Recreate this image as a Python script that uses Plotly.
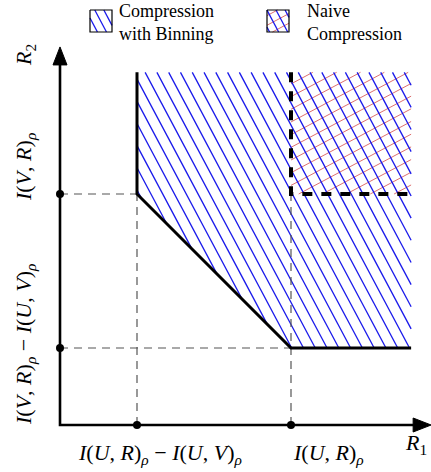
import numpy as np
import plotly.graph_objects as go

# ---------------- data (abstract rate units) ----------------
x_tick_vals = [1.0, 3.0]          # I(U,R)-I(U,V), I(U,R)
x_tick_labels = [
    "<i>I</i>(<i>U</i>, <i>R</i>)<sub><i>ρ</i></sub> − <i>I</i>(<i>U</i>, <i>V</i>)<sub><i>ρ</i></sub>",
    "<i>I</i>(<i>U</i>, <i>R</i>)<sub><i>ρ</i></sub>",
]
y_tick_vals = [1.0, 3.0]          # I(V,R)-I(U,V), I(V,R)
y_tick_labels = [
    "<i>I</i>(<i>V</i>, <i>R</i>)<sub><i>ρ</i></sub> − <i>I</i>(<i>U</i>, <i>V</i>)<sub><i>ρ</i></sub>",
    "<i>I</i>(<i>V</i>, <i>R</i>)<sub><i>ρ</i></sub>",
]
x_axis_label = "<i>R</i><sub>1</sub>"
y_axis_label = "<i>R</i><sub>2</sub>"
region_x_max = 4.56
region_y_max = 4.58
axis_x_tip = 4.82
axis_y_tip = 4.91

# boundary of "compression with binning" region
binning_x = [x_tick_vals[0], x_tick_vals[0], x_tick_vals[1], region_x_max]
binning_y = [region_y_max, y_tick_vals[1], y_tick_vals[0], y_tick_vals[0]]
# boundary of "naive compression" region
naive_x = [x_tick_vals[1], x_tick_vals[1], region_x_max]
naive_y = [region_y_max, y_tick_vals[1], y_tick_vals[1]]

legend_names = ["Compression<br>with Binning", "Naive<br>Compression"]

# ---------------- layout geometry ----------------
W, H = 431, 472
PX = 77.0            # pixels per unit (both axes)
OX, OY = 60.0, 425.0  # pixel position of origin
xr = [-OX / PX, (W - OX) / PX]
yr = [-(H - OY) / PX, OY / PX]

def px2d(px, py):
    return (px - OX) / PX, (OY - py) / PX

BLUE = "rgb(25,25,235)"
RED = "rgb(215,95,95)"
SERIF = "Liberation Serif, Times New Roman, serif"


def hatch(poly, angle_deg, spacing, phase=0.0):
    a = np.radians(angle_deg)
    d = np.array([np.cos(a), np.sin(a)])
    n = np.array([-np.sin(a), np.cos(a)])
    pts = np.array(poly, dtype=float)
    proj = pts @ n
    k0 = int(np.ceil((proj.min() - phase) / spacing))
    k1 = int(np.floor((proj.max() - phase) / spacing))
    xs, ys = [], []
    m = len(pts)
    for k in range(k0, k1 + 1):
        c = phase + k * spacing
        ts = []
        for i in range(m):
            p, q = pts[i], pts[(i + 1) % m]
            fp, fq = p @ n - c, q @ n - c
            if fp == fq:
                continue
            if (fp <= 0 <= fq) or (fq <= 0 <= fp):
                s = fp / (fp - fq)
                r = p + s * (q - p)
                ts.append(r @ d)
        if len(ts) >= 2:
            t0, t1 = min(ts), max(ts)
            if t1 - t0 < 1e-6:
                continue
            p0 = c * n + t0 * d
            p1 = c * n + t1 * d
            xs += [p0[0], p1[0], None]
            ys += [p0[1], p1[1], None]
    return xs, ys


fig = go.Figure()

# hatched regions
bin_poly = list(zip(binning_x, binning_y)) + [(region_x_max, region_y_max)]
naive_poly = list(zip(naive_x, naive_y)) + [(region_x_max, region_y_max)]

BL_ANG, BL_SP = -62.0, 10.4 / PX
RD_ANG, RD_SP = 28.0, 11.2 / PX

hx, hy = hatch(naive_poly, RD_ANG, RD_SP, 0.03)
fig.add_trace(go.Scatter(x=hx, y=hy, mode="lines", line=dict(color=RED, width=0.9),
                         hoverinfo="skip", showlegend=False))
hx, hy = hatch(bin_poly, BL_ANG, BL_SP, 0.02)
fig.add_trace(go.Scatter(x=hx, y=hy, mode="lines", line=dict(color=BLUE, width=1.3),
                         hoverinfo="skip", showlegend=False))

# thin gray dashed guide lines
GRAY = dict(color="rgb(85,85,85)", width=1.2, dash="8px,6px")
guides = [
    ([0, x_tick_vals[0]], [y_tick_vals[1], y_tick_vals[1]]),
    ([0, x_tick_vals[1]], [y_tick_vals[0], y_tick_vals[0]]),
    ([x_tick_vals[0], x_tick_vals[0]], [0, y_tick_vals[1]]),
    ([x_tick_vals[1], x_tick_vals[1]], [0, y_tick_vals[1]]),
]
for gx, gy in guides:
    fig.add_trace(go.Scatter(x=gx, y=gy, mode="lines", line=GRAY,
                             hoverinfo="skip", showlegend=False))

# region boundaries
fig.add_trace(go.Scatter(x=binning_x, y=binning_y, mode="lines",
                         line=dict(color="black", width=3), hoverinfo="skip", showlegend=False))
fig.add_trace(go.Scatter(x=naive_x, y=naive_y, mode="lines",
                         line=dict(color="black", width=4, dash="10px,9px"),
                         hoverinfo="skip", showlegend=False))

# axes
fig.add_trace(go.Scatter(x=[axis_x_tip - 0.1, 0, 0], y=[0, 0, axis_y_tip - 0.1], mode="lines",
                         line=dict(color="black", width=2.6), hoverinfo="skip", showlegend=False))
AL, AW = 18 / PX, 7 / PX
fig.add_trace(go.Scatter(x=[0, -AW, AW, 0], y=[axis_y_tip, axis_y_tip - AL, axis_y_tip - AL, axis_y_tip],
                         fill="toself", fillcolor="black", mode="lines", line=dict(color="black", width=1),
                         hoverinfo="skip", showlegend=False))
fig.add_trace(go.Scatter(x=[axis_x_tip, axis_x_tip - AL, axis_x_tip - AL, axis_x_tip], y=[0, AW, -AW, 0],
                         fill="toself", fillcolor="black", mode="lines", line=dict(color="black", width=1),
                         hoverinfo="skip", showlegend=False))

# tick dots
fig.add_trace(go.Scatter(x=x_tick_vals + [0, 0], y=[0, 0] + y_tick_vals, mode="markers",
                         marker=dict(color="black", size=8), hoverinfo="skip", showlegend=False))

annotations = []
FS = 22
# x tick labels
x_lab_px = [160, 328]
for lab, xp in zip(x_tick_labels, x_lab_px):
    xd, yd = px2d(xp, 454)
    annotations.append(dict(x=xd, y=yd, text=lab, showarrow=False, xanchor="center", yanchor="middle",
                            font=dict(family=SERIF, size=FS, color="black")))
# y tick labels (rotated)
y_lab_py = [345, 167]
for lab, yp in zip(y_tick_labels, y_lab_py):
    xd, yd = px2d(25, yp)
    annotations.append(dict(x=xd, y=yd, text=lab, showarrow=False, textangle=-90,
                            xanchor="center", yanchor="middle",
                            font=dict(family=SERIF, size=FS, color="black")))
xd, yd = px2d(416, 444)
annotations.append(dict(x=xd, y=yd, text=x_axis_label, showarrow=False, xanchor="center", yanchor="middle",
                        font=dict(family=SERIF, size=FS, color="black")))
xd, yd = px2d(25, 55)
annotations.append(dict(x=xd, y=yd, text=y_axis_label, showarrow=False, textangle=-90,
                        xanchor="center", yanchor="middle",
                        font=dict(family=SERIF, size=FS, color="black")))

# custom legend
legend_boxes_px = [(90, 10), (267, 10)]
BOX = 22
legend_text_px = [117, 305]
for i, ((bx, by), tx, name) in enumerate(zip(legend_boxes_px, legend_text_px, legend_names)):
    corners = [px2d(bx, by), px2d(bx + BOX, by), px2d(bx + BOX, by + BOX), px2d(bx, by + BOX)]
    if i == 1:
        hx, hy = hatch(corners, RD_ANG, 8.5 / PX, 0.01)
        fig.add_trace(go.Scatter(x=hx, y=hy, mode="lines", line=dict(color=RED, width=0.9),
                                 hoverinfo="skip", showlegend=False))
    hx, hy = hatch(corners, BL_ANG, 8.0 / PX, 0.02)
    fig.add_trace(go.Scatter(x=hx, y=hy, mode="lines", line=dict(color=BLUE, width=1.3),
                             hoverinfo="skip", showlegend=False))
    cx = [c[0] for c in corners] + [corners[0][0]]
    cy = [c[1] for c in corners] + [corners[0][1]]
    fig.add_trace(go.Scatter(x=cx, y=cy, mode="lines", line=dict(color="black", width=1.2),
                             hoverinfo="skip", showlegend=False))
    xd, yd = px2d(tx, 22)
    annotations.append(dict(x=xd, y=yd, text=name, showarrow=False, xanchor="left", yanchor="middle",
                            align="left", font=dict(family=SERIF, size=18, color="black")))

fig.update_layout(
    width=W, height=H,
    margin=dict(l=0, r=0, t=0, b=0),
    paper_bgcolor="white", plot_bgcolor="white",
    xaxis=dict(range=xr, visible=False, fixedrange=True),
    yaxis=dict(range=yr, visible=False, fixedrange=True),
    annotations=annotations,
    showlegend=False,
)
for tr in fig.data:
    tr.cliponaxis = False

fig.write_html("out.html", config={"displayModeBar": False},
               post_script="document.body.style.margin='0px';")
